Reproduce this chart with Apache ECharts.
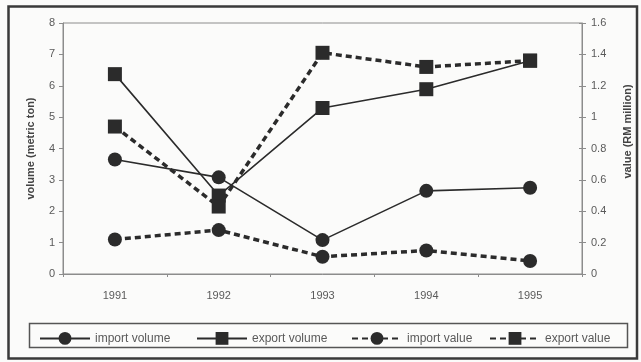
<!DOCTYPE html>
<html>
<head>
<meta charset="utf-8">
<script src="https://cdn.jsdelivr.net/npm/echarts@6/dist/echarts.min.js"></script>
<style>
html,body{margin:0;padding:0;background:#fbfbfa;}
#chart{width:641px;height:362px;}
</style>
</head>
<body>
<div id="chart"></div>
<script>
var years = ['1991', '1992', '1993', '1994', '1995'];
var importVolume = [3.65, 3.08, 1.08, 2.65, 2.75];
var exportVolume = [6.37, 2.5, 5.29, 5.89, 6.8];
var importValue = [0.22, 0.28, 0.11, 0.15, 0.083];
var exportValue = [0.94, 0.43, 1.41, 1.32, 1.36];
var leftTicks = [0, 1, 2, 3, 4, 5, 6, 7, 8];
var rightTicks = [0, 0.2, 0.4, 0.6, 0.8, 1, 1.2, 1.4, 1.6];
var seriesNames = ['import volume', 'export volume', 'import value', 'export value'];

var ink = '#2b2b2b';
var txt = '#5a5a5a';
var axisCol = '#8c8c8c';
var font = 'Liberation Sans, Arial, sans-serif';

function mkSeries(name, data, axis, symbol, dashed) {
  return {
    name: name, type: 'line', data: data, yAxisIndex: axis,
    symbol: symbol, symbolSize: 14, showSymbol: true,
    lineStyle: dashed ? {color: ink, width: 3.5, type: [6, 4]} : {color: ink, width: 1.6},
    itemStyle: {color: ink, borderWidth: 0},
    emphasis: {disabled: true},
    animation: false
  };
}

var legendLefts = [34, 191, 346, 484];
var legends = seriesNames.map(function (n, i) {
  return {
    left: legendLefts[i], top: 327, itemWidth: 50, itemHeight: 16,
    textStyle: {color: txt, fontSize: 12, fontFamily: font},
    data: [n], selectedMode: false
  };
});

var chart = echarts.init(document.getElementById('chart'), null, {renderer: 'canvas'});
chart.setOption({
  backgroundColor: '#fbfbfa',
  animation: false,
  textStyle: {fontFamily: font},
  grid: {left: 63, right: 59, top: 23, bottom: 88, show: true, borderColor: axisCol, borderWidth: 1, backgroundColor: 'transparent'},
  graphic: [
    {type: 'rect', shape: {x: 8.5, y: 6.5, width: 628.5, height: 352}, style: {fill: 'none', stroke: '#3a3a3a', lineWidth: 2.5}, silent: true},
    {type: 'rect', shape: {x: 29.5, y: 323.5, width: 598, height: 24}, style: {fill: 'none', stroke: '#555', lineWidth: 1.5}, silent: true}
  ],
  legend: legends,
  xAxis: {
    type: 'category', data: years, boundaryGap: true,
    axisLine: {lineStyle: {color: axisCol, width: 1}},
    axisTick: {show: true, inside: false, length: 3, lineStyle: {color: axisCol}},
    axisLabel: {color: txt, fontSize: 11, margin: 16, fontFamily: font}
  },
  yAxis: [
    {
      type: 'value', min: leftTicks[0], max: leftTicks[leftTicks.length - 1], interval: 1, position: 'left',
      name: 'volume (metric ton)', nameLocation: 'middle', nameGap: 27, nameRotate: 90,
      nameTextStyle: {color: '#444', fontSize: 11, fontWeight: 'bold', fontFamily: font},
      axisLine: {show: true, lineStyle: {color: axisCol}},
      axisTick: {show: true, length: 4, lineStyle: {color: axisCol}},
      axisLabel: {color: txt, fontSize: 11, margin: 8, fontFamily: font},
      splitLine: {show: false}
    },
    {
      type: 'value', min: rightTicks[0], max: rightTicks[rightTicks.length - 1], interval: 0.2, position: 'right',
      name: 'value (RM million)', nameLocation: 'middle', nameGap: 40, nameRotate: 90,
      nameTextStyle: {color: '#444', fontSize: 11, fontWeight: 'bold', fontFamily: font, padding: [0, 0, 0, 34]},
      axisLine: {show: true, lineStyle: {color: axisCol}},
      axisTick: {show: true, length: 4, lineStyle: {color: axisCol}},
      axisLabel: {color: txt, fontSize: 11, margin: 9, fontFamily: font,
        formatter: function (v) { return String(Math.round(v * 10) / 10); }},
      splitLine: {show: false}
    },
    {
      type: 'value', min: rightTicks[0], max: rightTicks[rightTicks.length - 1], interval: 0.2, position: 'right',
      axisLine: {show: false},
      axisTick: {show: true, inside: true, length: 3, lineStyle: {color: axisCol}},
      axisLabel: {show: false},
      splitLine: {show: false}
    }
  ],
  series: [
    mkSeries(seriesNames[0], importVolume, 0, 'circle', false),
    mkSeries(seriesNames[1], exportVolume, 0, 'rect', false),
    mkSeries(seriesNames[2], importValue, 1, 'circle', true),
    mkSeries(seriesNames[3], exportValue, 1, 'rect', true)
  ]
});
</script>
</body>
</html>
